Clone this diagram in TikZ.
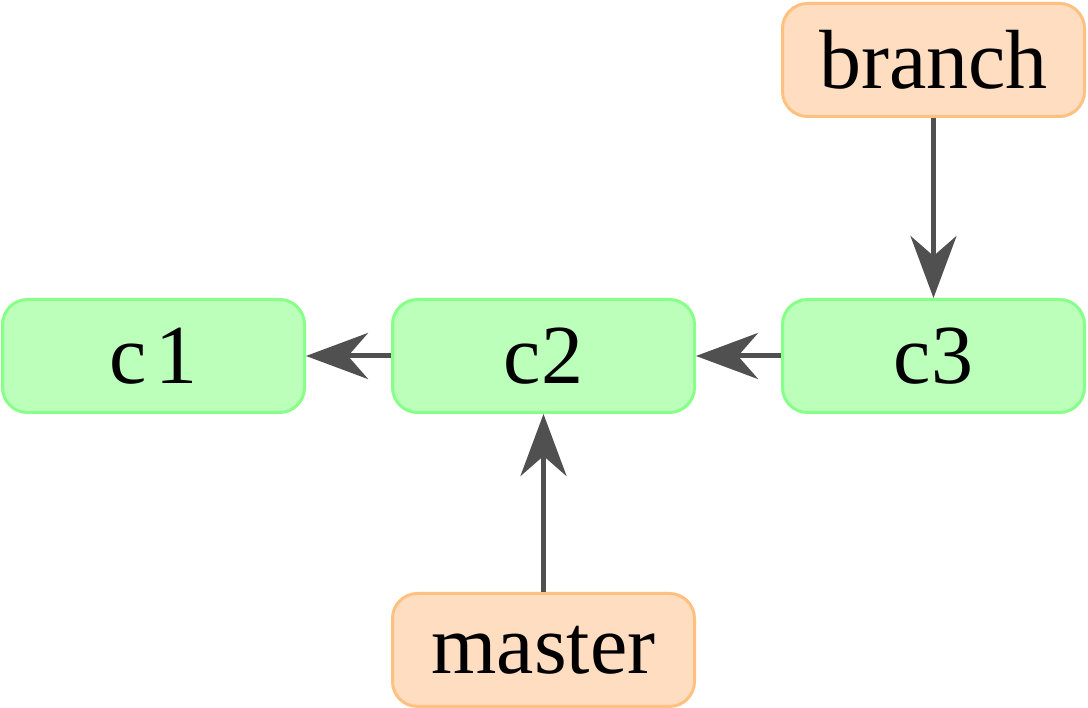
\documentclass[tikz,border=0pt]{standalone}
\usepackage{fontspec}
\setmainfont{Liberation Serif}
\usetikzlibrary{arrows.meta}
\definecolor{cfill}{HTML}{BBFFBB}
\definecolor{cdraw}{HTML}{88FF88}
\definecolor{rfill}{HTML}{FFDDC0}
\definecolor{rdraw}{HTML}{FFC080}
\definecolor{arr}{HTML}{505050}
\begin{document}
\begin{tikzpicture}[x=1pt,y=1pt,
  box/.style={rounded corners=25pt, line width=3pt, minimum width=302pt, minimum height=113pt, inner sep=0pt, font=\fontsize{84}{90}\selectfont},
  commit/.style={box, fill=cfill, draw=cdraw},
  ref/.style={box, fill=rfill, draw=rdraw},
  conn/.style={draw=arr, line width=5pt, -{Stealth[length=62pt,width=46pt,inset=20pt]}}]
\useasboundingbox (0,0) rectangle (1088,708);
\node[commit] (c1) at (153.5,352) {c\kern8pt 1};
\node[commit] (c2) at (543.5,352) {c2};
\node[commit] (c3) at (933.5,352) {c3};
\node[ref] (branch) at (933.5,648) {branch};
\node[ref] (master) at (543.5,58) {master};
\draw[conn] (c2.west) -- (c1.east);
\draw[conn] (c3.west) -- (c2.east);
\draw[conn] (branch.south) -- (c3.north);
\draw[conn] (master.north) -- (c2.south);
\end{tikzpicture}
\end{document}
